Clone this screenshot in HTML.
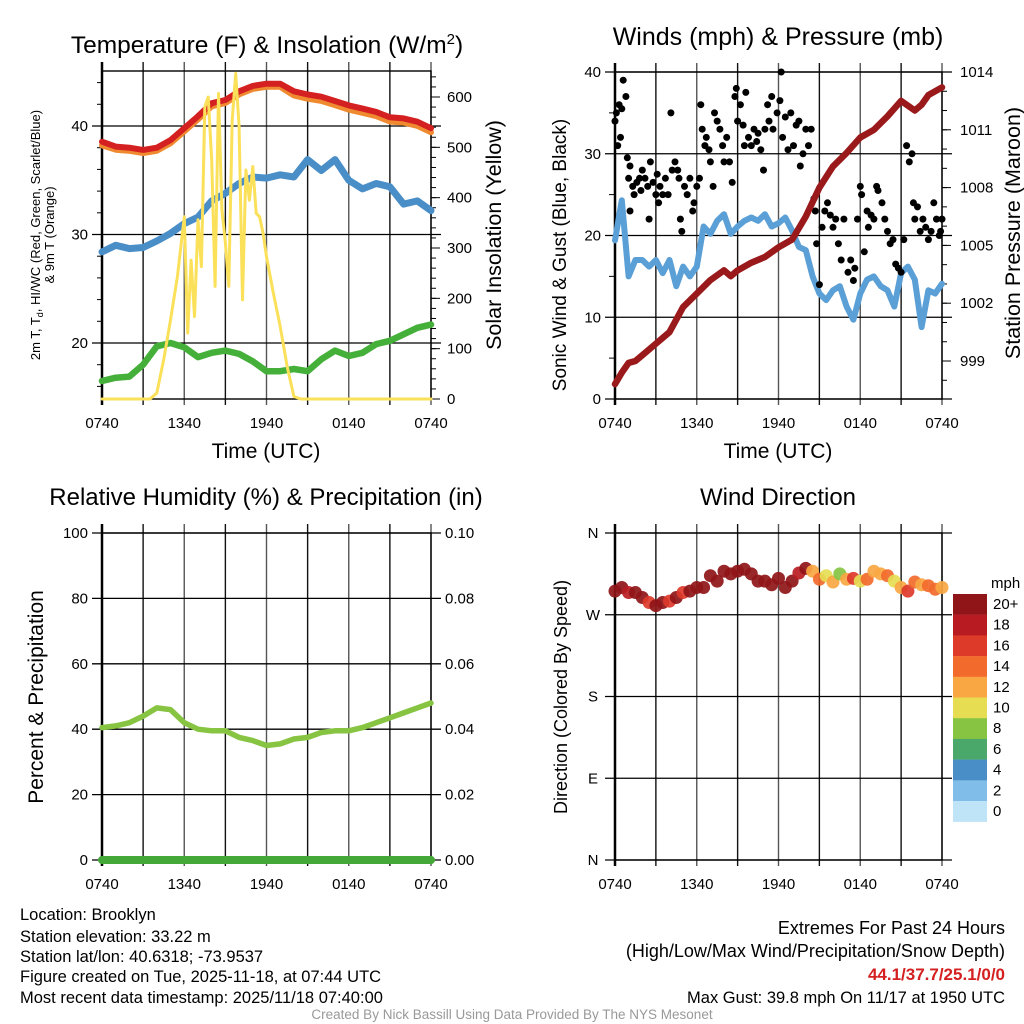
<!DOCTYPE html>
<html><head><meta charset="utf-8">
<style>
html,body{margin:0;padding:0;background:#fff;}
svg{display:block;font-family:"Liberation Sans",Arial,sans-serif;}
</style></head>
<body>
<svg id="chart" width="1024" height="1024" viewBox="0 0 1024 1024">
<text x="267" y="53" font-size="24.5" text-anchor="middle">Temperature (F) &amp; Insolation (W/m<tspan font-size="15" dy="-9">2</tspan><tspan dy="9">)</tspan></text>
<text x="778" y="45" font-size="25" text-anchor="middle">Winds (mph) &amp; Pressure (mb)</text>
<text x="266" y="505" font-size="24" text-anchor="middle">Relative Humidity (%) &amp; Precipitation (in)</text>
<text x="778" y="505" font-size="24" text-anchor="middle">Wind Direction</text>

<text x="266" y="458" font-size="21" text-anchor="middle">Time (UTC)</text>
<text x="778" y="458" font-size="21" text-anchor="middle">Time (UTC)</text>

<text transform="translate(40,235) rotate(-90)" font-size="13" text-anchor="middle">2m T, T<tspan font-size="9" dy="3">d</tspan><tspan dy="-3">, HI/WC (Red, Green, Scarlet/Blue)</tspan></text>
<text transform="translate(54,235) rotate(-90)" font-size="13" text-anchor="middle">&amp; 9m T (Orange)</text>
<text transform="translate(501,235) rotate(-90)" font-size="21.5" text-anchor="middle">Solar Insolation (Yellow)</text>
<text transform="translate(566,255) rotate(-90)" font-size="19" text-anchor="middle">Sonic Wind &amp; Gust (Blue, Black)</text>
<text transform="translate(1020,233) rotate(-90)" font-size="21.5" text-anchor="middle">Station Pressure (Maroon)</text>
<text transform="translate(43,697) rotate(-90)" font-size="21" text-anchor="middle">Percent &amp; Precipitation</text>
<text transform="translate(567,697) rotate(-90)" font-size="18" text-anchor="middle">Direction (Colored By Speed)</text>

<g font-size="16.5">
<text x="20" y="920">Location: Brooklyn</text>
<text x="20" y="942">Station elevation: 33.22 m</text>
<text x="20" y="962">Station lat/lon: 40.6318; -73.9537</text>
<text x="20" y="982">Figure created on Tue, 2025-11-18, at 07:44 UTC</text>
<text x="20" y="1003">Most recent data timestamp: 2025/11/18 07:40:00</text>
</g>
<g font-size="18" text-anchor="end">
<text x="1005" y="934">Extremes For Past 24 Hours</text>
<text x="1005" y="957">(High/Low/Max Wind/Precipitation/Snow Depth)</text>
<text x="1005" y="980" fill="#d42020" font-weight="bold" font-size="17">44.1/37.7/25.1/0/0</text>
<text x="1005" y="1003" font-size="16.5">Max Gust: 39.8 mph On 11/17 at 1950 UTC</text>
</g>
<text x="512" y="1019" font-size="13.5" fill="#999" text-anchor="middle">Created By Nick Bassill Using Data Provided By The NYS Mesonet</text>
</svg>
<script>
// ---------- data ----------
const hours = [0,1,2,3,4,5,6,7,8,9,10,11,12,13,14,15,16,17,18,19,20,21,22,23,24];
const xTickLabels = ["0740","1340","1940","0140","0740"];
const tempRed = [38.55,38.1,38.0,37.8,38.0,38.7,39.8,40.9,42.1,42.4,43.2,43.7,43.9,43.9,43.2,42.9,42.7,42.3,41.9,41.6,41.3,40.8,40.7,40.4,39.8];
const temp9m = [38.4,38.0,37.9,37.7,37.9,38.6,39.7,40.8,42.0,42.3,43.1,43.6,43.8,43.8,43.0,42.7,42.5,42.1,41.7,41.4,41.1,40.6,40.5,40.2,39.6];
const dewBlue = [28.4,29.0,28.7,28.8,29.4,30.1,31.0,31.6,33.1,33.8,34.7,35.3,35.2,35.5,35.3,36.9,35.9,36.9,35.0,34.2,34.7,34.4,32.8,33.1,32.2];
const dewGreen = [16.5,16.8,16.9,18.0,19.7,20.0,19.6,18.7,19.1,19.3,19.0,18.3,17.4,17.4,17.6,17.4,18.5,19.3,18.8,19.1,19.9,20.2,20.8,21.4,21.7];
const tempTicks = [20,30,40];
const solarTicks = [0,100,200,300,400,500,600];
const solarHours = [0,3.5,4,4.5,5,5.5,6,6.25,6.5,6.75,7,7.25,7.5,7.75,8,8.25,8.5,8.75,9,9.25,9.5,9.75,10,10.25,10.5,10.75,11,11.25,11.5,11.75,12,12.5,13,13.5,14,14.5,24];
const solarVals = [0,0,12,78,157,243,362,131,276,164,356,263,580,600,475,224,607,376,310,224,554,647,541,197,455,395,462,369,362,329,283,210,144,65,5,0,0];

const windHalfHours = [0,0.5,1,1.5,2,2.5,3,3.5,4,4.5,5,5.5,6,6.5,7,7.5,8,8.5,9,9.5,10,10.5,11,11.5,12,12.5,13,13.5,14,14.5,15,15.5,16,16.5,17,17.5,18,18.5,19,19.5,20,20.5,21,21.5,22,22.5,23,23.5,24];
const sonicWind = [19.4,24.3,15.0,17,17,16.2,17,15.4,17,13.8,16.2,15,16.2,21.1,20.2,21.8,22.6,20.2,21.1,21.8,22.2,21.8,22.6,21.1,21.5,22.2,20.6,18.6,18.2,15,12.9,12.1,13.3,13.8,11.3,9.7,12.9,14.6,15,13.8,13.3,11.3,15.4,16.2,14.6,8.8,13.3,12.9,14.1];
const gusts = [[0.0,34],[0.1,35],[0.3,36],[0.5,35.5],[0.6,39],[0.2,31],[0.8,37],[0.4,32],[0.9,29.5],[1.0,27],[1.1,28.5],[1.3,26],[1.4,25],[1.6,26.5],[1.8,27],[1.9,25.5],[2.0,28],[2.2,27],[2.4,26],[2.6,29],[2.8,26.5],[3.0,25],[3.1,27.5],[3.2,24],[3.3,26],[3.5,25],[2.5,22],[1.1,23],[3.7,27],[3.9,25],[4.1,35],[4.2,28],[4.4,29],[4.6,28],[4.7,27],[4.8,22],[4.9,20.5],[5.1,26],[5.3,25],[5.5,27],[5.7,23],[5.8,24],[6.0,26],[6.2,27],[6.3,36],[6.4,33],[6.6,31],[6.7,32],[6.9,30.5],[7.0,29],[7.2,26],[7.3,35],[7.5,34],[7.7,33],[7.9,31],[8.0,29],[8.2,32],[8.4,29],[8.6,26.5],[8.8,37],[8.9,38],[9.0,34],[9.2,36],[9.4,33.5],[9.5,31],[9.6,37.5],[9.8,32],[10.0,31],[10.2,33],[10.4,31.5],[10.5,32.5],[10.7,30.5],[10.9,28],[11.0,33],[11.2,36],[11.3,34],[11.5,37],[11.6,33],[11.9,35],[12.1,36.5],[12.2,40],[12.3,32],[12.5,34.5],[12.7,30.5],[12.9,35],[13.1,31],[13.3,33.5],[13.5,34],[13.6,28.5],[13.8,30],[14.0,33],[14.2,31],[14.4,33],[14.6,24.5],[14.7,23],[14.8,19],[15.0,14],[15.2,21],[15.4,23],[15.6,24],[15.8,22.5],[16.0,21],[16.2,22],[16.4,19],[16.6,17],[16.8,22],[17.1,15.5],[17.3,17],[17.5,14.5],[17.6,16],[17.8,22],[18.0,26],[18.1,25],[18.3,18],[18.5,23],[18.6,21],[18.8,22.5],[19.0,22],[19.2,26],[19.3,25.5],[19.6,24],[19.8,22],[20.0,20.5],[20.2,19],[20.4,19.5],[20.6,16.5],[20.8,16],[21.0,15.5],[21.2,19.5],[21.4,31],[21.6,29],[21.8,30],[21.9,24],[22.0,22],[22.2,23.5],[22.4,20.5],[22.6,22],[22.8,21],[23.0,19.5],[23.2,20.5],[23.4,24],[23.6,22],[23.8,20],[23.9,20.5],[24.0,22]];
const pressHours = [0,0.5,1,1.5,2,3,4,5,6,7,8,8.5,9,10,11,12,13,14,15,16,17,18,19,20,21,22,22.5,23,24];
const pressure = [997.8,998.4,998.9,999.0,999.3,999.9,1000.5,1001.8,1002.5,1003.2,1003.7,1003.4,1003.7,1004.1,1004.4,1004.9,1005.3,1006.5,1008.0,1009.1,1009.8,1010.6,1011.0,1011.7,1012.5,1012.0,1012.3,1012.8,1013.2];
const windTicks = [0,10,20,30,40];
const pressTicks = [999,1002,1005,1008,1011,1014];

const rh = [40.5,41,42,44,46.5,46,42,40,39.5,39.5,37.5,36.5,35,35.5,37,37.5,39,39.5,39.5,40.5,42,43.5,45,46.5,48];
const precip = [0,0,0,0,0,0,0,0,0,0,0,0,0,0,0,0,0,0,0,0,0,0,0,0,0];
const rhTicks = [0,20,40,60,80,100];
const precipTicks = ["0.00","0.02","0.04","0.06","0.08","0.10"];

const dirDeg = [296,300,294.5,294.5,289,283.5,280,283.5,285,289,294.5,296,300,300,313,307,318,315,318,320,315,307,307,303,310,300,307,316,321,318,309,313,306,315,309,310,307,309,318,315,313,307,300,296,306,303,302,298,300];
const dirSpeed = [21,22,18,22,21,17,22,21,16,21,17,22,21,22,23,22,24,22,23,22,25,22,23,21,22,22,23,18,20,12,14,10,13,9,12,16,11,14,12,13,15,10,12,16,14,13,15,14,13];
const dirLabels = ["N","E","S","W","N"];
const speedLevels = ["20+","18","16","14","12","10","8","6","4","2","0"];
const speedColors = ["#8f1518","#b81c22","#dd3a2a","#f26a2c","#f9a742","#e6dd52","#86c442","#4aa86a","#4a8ec8","#80bde8","#bfe4f8"];

// ---------- helpers ----------
const NS = "http://www.w3.org/2000/svg";
const svg = document.getElementById("chart");
function mk(tag, attrs, parent){ const e=document.createElementNS(NS,tag); for(const k in attrs) e.setAttribute(k,attrs[k]); (parent||svg).appendChild(e); return e; }
function scale(d0,d1,r0,r1){ return v => r0 + (v-d0)/(d1-d0)*(r1-r0); }

function frame(P, name){
  const g = mk("g",{});
  
  
  for(let k=0;k<=8;k++){
    const x = P.x0 + k*(P.x1-P.x0)/8;
    const l = mk("line",{x1:x,y1:P.y0-9,x2:x,y2:P.y1+6,stroke:(k%2? "#111":"#555"),"stroke-width":1.4},g);
    
    
  }
  mk("rect",{x:P.x0,y:P.y0,width:P.x1-P.x0,height:P.y1-P.y0,fill:"none",stroke:"#000","stroke-width":1.4},g);
  mk("line",{x1:P.x0,y1:P.y0-9,x2:P.x0,y2:P.y1+6,stroke:"#000","stroke-width":2.5},g);
  xTickLabels.forEach((t,i)=>{
    const x = P.x0 + i*(P.x1-P.x0)/4;
    const tx = mk("text",{x:x,y:P.y1+29,"font-size":15,"text-anchor":"middle"},g);
    tx.textContent=t;
    
    
  });
  return g;
}
function hgrid(g, y, P){ mk("line",{x1:P.x0-10,y1:y,x2:P.x1+10,y2:y,stroke:"#000","stroke-width":1.3},g); }
function label(g,x,y,t,anchor,name){
  const tx = mk("text",{x:x,y:y+5,"font-size":15,"text-anchor":anchor},g); tx.textContent=t;
  
  
}
function line(xs, ys, fx, fy, color, w, name){
  const d = xs.map((h,i)=>(i?"L":"M")+fx(h).toFixed(1)+","+fy(ys[i]).toFixed(1)).join("");
  const p = mk("path",{d:d,fill:"none",stroke:color,"stroke-width":w,"stroke-linejoin":"round","stroke-linecap":"round"});
  
  
  return p;
}

// ---------- Panel 1: temperature ----------
const P1={x0:102,x1:431,y0:71,y1:399};
const g1 = frame(P1,"temp");
const x1s = scale(0,24,P1.x0,P1.x1);
const yT = scale(20,40,343,126);
const yS = scale(0,600,399,97);
tempTicks.forEach(v=>{ hgrid(g1,yT(v),P1); label(g1,P1.x0-14,yT(v),String(v),"end","temp-y-tick-label"); });
solarTicks.forEach(v=>{ mk("line",{x1:P1.x1,y1:yS(v),x2:P1.x1+9,y2:yS(v),stroke:"#000"},g1); label(g1,P1.x1+16,yS(v),String(v),"start","solar-y-tick-label"); });
for(let v=0;v<=640;v+=20){ mk("line",{x1:P1.x1,y1:yS(v),x2:P1.x1+5,y2:yS(v),stroke:"#000"},g1); }
for(let v=16;v<=44;v+=2){ mk("line",{x1:P1.x0-5,y1:yT(v),x2:P1.x0,y2:yT(v),stroke:"#000"},g1); }
line(hours,dewGreen,x1s,yT,"#44b03a",6.5,"dewpoint-green-line");
line(hours,dewBlue,x1s,yT,"#4a8ec8",7,"heat-index-blue-line");
line(hours,temp9m,x1s,v=>yT(v)+2,"#f08a30",6,"temp-9m-orange-line");
line(hours,tempRed,x1s,yT,"#d42020",6,"temp-2m-red-line");
line(solarHours,solarVals,x1s,yS,"#fbe05a",3,"solar-insolation-line");

// ---------- Panel 2: winds ----------
const P2={x0:615,x1:942,y0:72,y1:399};
const g2 = frame(P2,"wind");
const x2s = scale(0,24,P2.x0,P2.x1);
const yW = scale(0,40,399,72);
const yP = scale(999,1014,361,72);
windTicks.forEach(v=>{ hgrid(g2,yW(v),P2); label(g2,P2.x0-14,yW(v),String(v),"end","wind-y-tick-label"); });
pressTicks.forEach(v=>{ mk("line",{x1:P2.x1,y1:yP(v),x2:P2.x1+9,y2:yP(v),stroke:"#000"},g2); label(g2,P2.x1+18,yP(v),String(v),"start","pressure-y-tick-label"); });
for(let v=998;v<=1014;v++){ mk("line",{x1:P2.x1,y1:yP(v),x2:P2.x1+5,y2:yP(v),stroke:"#000"},g2); }
for(let v=5;v<=40;v+=10){ mk("line",{x1:P2.x0-6,y1:yW(v),x2:P2.x0,y2:yW(v),stroke:"#000"},g2); }
line(windHalfHours,sonicWind,x2s,yW,"#5a9fd6",6,"sonic-wind-line");
gusts.forEach(p=>{
  const c = mk("circle",{cx:x2s(p[0]).toFixed(1),cy:yW(p[1]).toFixed(1),r:3.5,fill:"#000"});
  
  
});
line(pressHours,pressure,x2s,yP,"#9a1a1c",6.5,"pressure-line");

// ---------- Panel 3: RH ----------
const P3={x0:102,x1:431,y0:533,y1:860};
const g3 = frame(P3,"rh");
const x3s = scale(0,24,P3.x0,P3.x1);
const yR = scale(0,100,860,533);
rhTicks.forEach((v,i)=>{ hgrid(g3,yR(v),P3); label(g3,P3.x0-14,yR(v),String(v),"end","rh-y-tick-label"); label(g3,P3.x1+14,yR(v),precipTicks[i],"start","precip-y-tick-label"); });
line(hours,rh,x3s,yR,"#86c442",5.5,"relative-humidity-line");
line(hours,precip,x3s,v=>yR(v*1000),"#44a838",8,"precipitation-line");

// ---------- Panel 4: wind direction ----------
const P4={x0:615,x1:942,y0:533,y1:860};
const g4 = frame(P4,"direction");
const x4s = scale(0,24,P4.x0,P4.x1);
const yD = scale(0,360,860,533);
dirLabels.forEach((t,i)=>{ const v=i*90; hgrid(g4,yD(v),P4); label(g4,P4.x0-22,yD(v),t,"middle","direction-y-tick-label"); });
function colorFor(s){ if(s>=20) return speedColors[0]; const lv=[18,16,14,12,10,8,6,4,2,0]; for(let i=0;i<lv.length;i++){ if(s>=lv[i]) return speedColors[i+1]; } return speedColors[10]; }
dirDeg.forEach((d,i)=>{
  const c = mk("circle",{cx:x4s(windHalfHours[i]).toFixed(1),cy:yD(d).toFixed(1),r:6.5,fill:colorFor(dirSpeed[i]),"fill-opacity":0.92});
  
  
});
// colorbar
const cb = mk("g",{});


const mph = mk("text",{x:991,y:588,"font-size":15},cb); mph.textContent="mph";
speedLevels.forEach((t,i)=>{
  const y = 594 + i*20.7;
  const r = mk("rect",{x:953,y:y,width:34,height:20.9,fill:speedColors[i]},cb);
  
  
  const tx = mk("text",{x:993,y:y+15,"font-size":15},cb); tx.textContent=t;
  
  
});
</script>
</body></html>
